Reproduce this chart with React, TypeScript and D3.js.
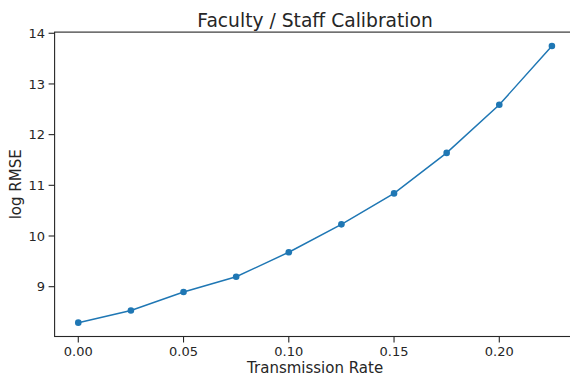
import React from "react";
import * as d3 from "d3";

const rates = [0, 0.025, 0.05, 0.075, 0.1, 0.125, 0.15, 0.175, 0.2, 0.225];
const logRmse = [8.29, 8.53, 8.895, 9.195, 9.68, 10.23, 10.84, 11.64, 12.59, 13.75];
const xTicks = [0, 0.05, 0.1, 0.15, 0.2];
const yTicks = [9, 10, 11, 12, 13, 14];

const W = 570;
const H = 377;
const FONT = "DejaVu Sans, sans-serif";
const INK = "#262626";
const BLUE = "#1f77b4";

export default function App() {
  const xMin = d3.min(rates)!, xMax = d3.max(rates)!;
  const yMin = d3.min(logRmse)!, yMax = d3.max(logRmse)!;
  const xm = (xMax - xMin) * 0.05;
  const ym = (yMax - yMin) * 0.05;
  const x = d3.scaleLinear().domain([xMin - xm, xMax + xm]).range([54.6, 575.6]);
  const y = d3.scaleLinear().domain([yMin - ym, yMax + ym]).range([336.5, 32.1]);
  const left = x.range()[0], right = x.range()[1];
  const bottom = y.range()[0], top = y.range()[1];
  const line = d3.line<number>().x((_, i) => x(rates[i])).y((d) => y(d));
  const fx = d3.format(".2f");

  return (
    <svg width={W} height={H} style={{ position: "absolute", left: 0, top: 0, display: "block" }}>
      <rect width={W} height={H} fill="#ffffff" />
      <text x={(left + right) / 2} y={27} textAnchor="middle" fontFamily={FONT} fontSize={18.7} fill={INK}>
        Faculty / Staff Calibration
      </text>
      {/* spines */}
      <rect x={left} y={top} width={right - left} height={bottom - top} fill="none" stroke={INK} strokeWidth={1.1} />
      {/* x ticks */}
      {xTicks.map((t) => (
        <g key={"x" + t}>
          <line x1={x(t)} x2={x(t)} y1={bottom} y2={bottom + 6} stroke={INK} strokeWidth={1.1} />
          <text x={x(t)} y={356} textAnchor="middle" fontFamily={FONT} fontSize={13} fill={INK}>
            {fx(t)}
          </text>
        </g>
      ))}
      {/* y ticks */}
      {yTicks.map((t) => (
        <g key={"y" + t}>
          <line x1={left - 6} x2={left} y1={y(t)} y2={y(t)} stroke={INK} strokeWidth={1.1} />
          <text x={45} y={y(t)} dy="0.36em" textAnchor="end" fontFamily={FONT} fontSize={13} fill={INK}>
            {t}
          </text>
        </g>
      ))}
      <text x={(left + right) / 2} y={373} textAnchor="middle" fontFamily={FONT} fontSize={15} fill={INK}>
        Transmission Rate
      </text>
      <text
        transform={`translate(21,${(top + bottom) / 2}) rotate(-90)`}
        textAnchor="middle"
        fontFamily={FONT}
        fontSize={15}
        fill={INK}
      >
        log RMSE
      </text>
      <path d={line(logRmse) || ""} fill="none" stroke={BLUE} strokeWidth={1.5} />
      {logRmse.map((v, i) => (
        <circle key={"p" + i} cx={x(rates[i])} cy={y(v)} r={3.3} fill={BLUE} />
      ))}
    </svg>
  );
}
